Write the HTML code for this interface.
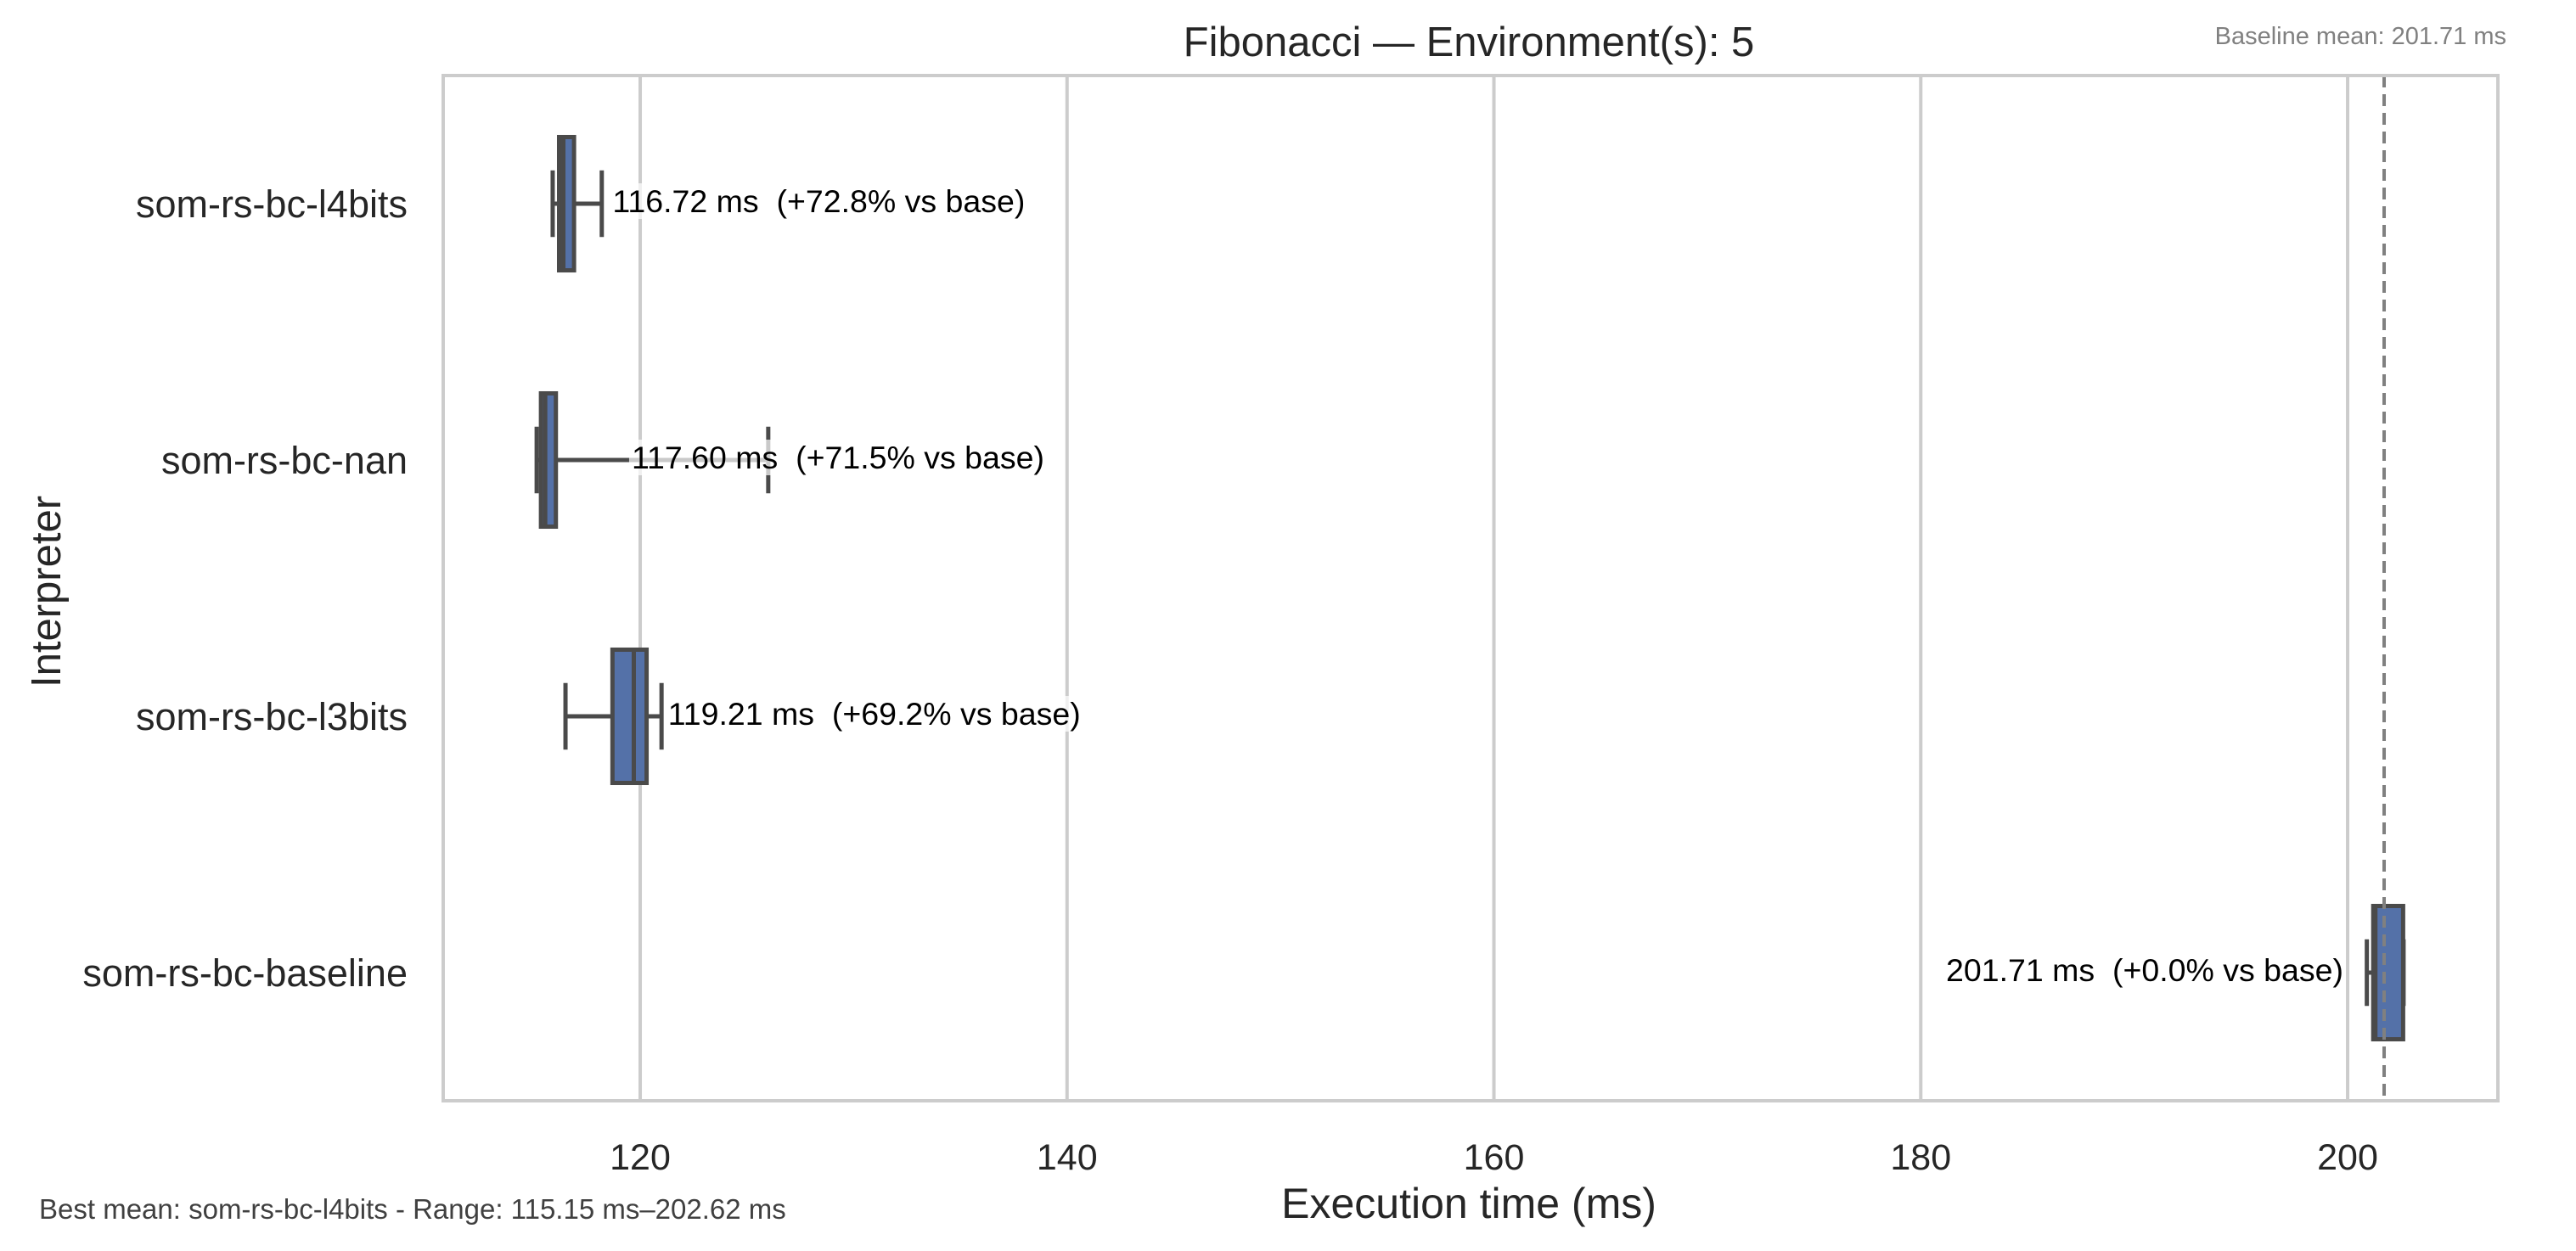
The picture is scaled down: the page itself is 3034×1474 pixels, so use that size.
<!DOCTYPE html>
<html><head><meta charset="utf-8"><style>
html,body{margin:0;padding:0;background:#fff}
svg{display:block;font-family:"Liberation Sans",Arial,sans-serif}
text{white-space:pre}
</style></head><body>
<svg id="chart" width="3034" height="1474" viewBox="0 0 3034 1474" xmlns="http://www.w3.org/2000/svg">
<rect x="0" y="0" width="3034" height="1474" fill="#fff"/>
<g id="grid"></g>
<g id="marks"></g>
<rect x="522" y="89" width="2420" height="1208" fill="none" stroke="#cccccc" stroke-width="4"/>
<text x="1730" y="66" font-size="49" text-anchor="middle" fill="#262626">Fibonacci — Environment(s): 5</text>
<text x="2952" y="52" font-size="29" text-anchor="end" fill="#808080">Baseline mean: 201.71 ms</text>
<text x="1730" y="1435" font-size="50" text-anchor="middle" fill="#262626">Execution time (ms)</text>
<text transform="translate(71,697) rotate(-90)" font-size="49" text-anchor="middle" fill="#262626">Interpreter</text>
<text x="46" y="1436" font-size="33" fill="#404040">Best mean: som-rs-bc-l4bits - Range: 115.15 ms–202.62 ms</text>
</svg>
<script>
const categories = ["som-rs-bc-l4bits","som-rs-bc-nan","som-rs-bc-l3bits","som-rs-bc-baseline"];
const whiskerLow = [115.9, 115.15, 116.5, 200.9];
const q1 = [116.2, 115.35, 118.7, 201.2];
const median = [116.4, 115.55, 119.7, 201.3];
const q3 = [116.9, 116.05, 120.3, 202.6];
const whiskerHigh = [118.2, 126.0, 121.0, 202.62];
const means = [116.72, 117.60, 119.21, 201.71];
const pctVsBase = ["+72.8%", "+71.5%", "+69.2%", "+0.0%"];
const labelAt = [118.7, 119.6, 121.3, 199.8];
const labelAnchor = ["start","start","start","end"];
const xTicks = [120, 140, 160, 180, 200];
const baselineMean = 201.71;

const NS = "http://www.w3.org/2000/svg";
const X0 = 522, X1 = 2942, Y0 = 89, Y1 = 1297;
const xMin = 110.77, xMax = 207.04;
const x = v => X0 + (v - xMin) / (xMax - xMin) * (X1 - X0);
const band = (Y1 - Y0) / categories.length;
const y = i => Y0 + band * (i + 0.5);
function mk(tag, attrs, parent){const e=document.createElementNS(NS,tag);for(const k in attrs)e.setAttribute(k,attrs[k]);parent.appendChild(e);return e;}
const grid = document.getElementById('grid'), marks = document.getElementById('marks'), svg = document.getElementById('chart');

xTicks.forEach(t=>{
  const l = mk('line',{x1:x(t),x2:x(t),y1:Y0,y2:Y1,stroke:'#cccccc','stroke-width':4},grid);
  
  
  const tx = mk('text',{x:x(t),y:1378,'font-size':43,'text-anchor':'middle',fill:'#262626'},svg);
  tx.textContent = t;
  
  
});

const bh = band * 0.52;
categories.forEach((c,i)=>{
  const cy = y(i);
  const g = mk('g',{},marks);
  
  
  const st = {stroke:'#4a4a4a','stroke-width':5,fill:'none'};
  mk('line',Object.assign({x1:x(whiskerLow[i]),x2:x(q1[i]),y1:cy,y2:cy},st),g);
  mk('line',Object.assign({x1:x(q3[i]),x2:x(whiskerHigh[i]),y1:cy,y2:cy},st),g);
  mk('line',Object.assign({x1:x(whiskerLow[i]),x2:x(whiskerLow[i]),y1:cy-bh/4,y2:cy+bh/4},st),g);
  mk('line',Object.assign({x1:x(whiskerHigh[i]),x2:x(whiskerHigh[i]),y1:cy-bh/4,y2:cy+bh/4},st),g);
  mk('rect',{x:x(q1[i]),y:cy-bh/2,width:x(q3[i])-x(q1[i]),height:bh,fill:'#5471a8',stroke:'#4a4a4a','stroke-width':5},g);
  mk('line',Object.assign({x1:x(median[i]),x2:x(median[i]),y1:cy-bh/2,y2:cy+bh/2},st),g);
  const yl = mk('text',{x:480,y:cy+16,'font-size':45,'text-anchor':'end',fill:'#262626'},svg);
  yl.textContent = c;
  
  
});

const dl = mk('line',{x1:x(baselineMean),x2:x(baselineMean),y1:Y0,y2:Y1,stroke:'#808080','stroke-width':4,'stroke-dasharray':'14,8'},marks);



categories.forEach((c,i)=>{
  const cy = y(i);
  const t = mk('text',{x:x(labelAt[i]),y:cy+10,'font-size':37.5,'text-anchor':labelAnchor[i],fill:'#000'},svg);
  t.textContent = means[i].toFixed(2)+' ms\u00a0 ('+pctVsBase[i]+' vs base)';
  
  
  const bb = t.getBBox();
  const bg = mk('rect',{x:bb.x-3,y:bb.y,width:bb.width+6,height:bb.height,fill:'#fff','fill-opacity':0.7},svg);
  
  
  svg.insertBefore(bg,t);
});
</script>
</body></html>
